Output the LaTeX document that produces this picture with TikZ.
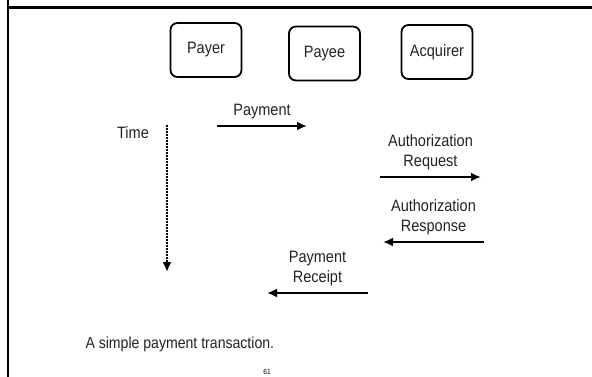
\documentclass[tikz,border=0pt]{standalone}
\usepackage{fontspec}
\setmainfont{Liberation Sans}[FakeStretch=0.88]
\usepackage{xcolor}
\usetikzlibrary{arrows.meta,calc}
\definecolor{txtgray}{HTML}{222222}
\tikzset{>={Latex[length=10pt,width=9pt]}}
\tikzset{party/.style={draw,rounded corners=7pt,line width=1.8pt,minimum width=71pt,minimum height=54pt,font=\fontsize{16.5}{19}\selectfont,text=txtgray}}
\tikzset{msg/.style={->,line width=2.2pt}}
\tikzset{lbl/.style={above=6pt,inner sep=0pt,align=center,font=\fontsize{16.5}{19.5}\selectfont,text=txtgray}}

\begin{document}
\begin{tikzpicture}[x=1pt,y=-1pt]
  \useasboundingbox (0,0) rectangle (592,377);
  % Frame
  \draw[line width=2.5pt] (8,0) -- (8,377);
  \draw[line width=3pt] (8,8) -- (592,8);

  % Parties
  \node[party] (payer) at (206,50) {Payer};
  \node[party] (payee) at (324.5,53.5) {Payee};
  \node[party] (acquirer) at (437,52) {Acquirer};

  % Vertices
  \coordinate (pay1) at (217,126);
  \coordinate (pay2) at (307,126);
  \coordinate (req1) at (380,177);
  \coordinate (req2) at (481,177);
  \coordinate (res1) at (484,242);
  \coordinate (res2) at (383,242);
  \coordinate (rcp1) at (368,293);
  \coordinate (rcp2) at (267,293);
  \coordinate (time1) at (167,125);
  \coordinate (time2) at (167,272);

  % Lines
  \draw[msg] (pay1) -- (pay2) node[pos=0.5,lbl] {Payment};
  \draw[msg] (req1) -- (req2) node[pos=0.5,lbl] {Authorization\\Request};
  \draw[msg] (res1) -- (res2) node[pos=0.5,lbl] {Authorization\\Response};
  \draw[msg] (rcp1) -- (rcp2) node[pos=0.5,lbl] {Payment\\Receipt};
  \draw[->,line width=2pt,densely dotted] (time1) -- (time2);

  % Labels
  \node[anchor=base,font=\fontsize{16.5}{19}\selectfont,text=txtgray] (time) at (133,139) {Time};
  \node[anchor=base west,font=\fontsize{16}{19}\selectfont,text=txtgray] (caption) at (82,348) {A simple payment transaction.};
  \node[font=\fontsize{7.5}{8}\selectfont] (page) at (267,372) {61};
\end{tikzpicture}
\end{document}
